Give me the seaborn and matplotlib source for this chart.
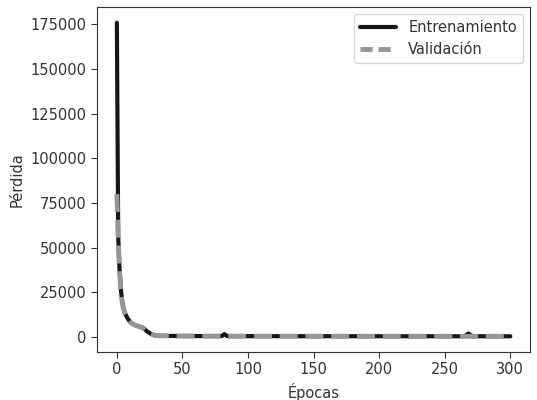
import matplotlib
matplotlib.use("Agg")
import matplotlib.pyplot as plt
import seaborn as sns
import pandas as pd

# Loss per epoch (sampled epochs; the curve is flat between them)
epochs = [0, 1, 2, 3, 4, 5, 6, 8, 10, 12, 15, 18, 20, 23, 26, 29, 32, 35, 40,
          50, 60, 70, 80, 82, 84, 90, 100, 120, 150, 180, 200, 220, 250,
          265, 268, 271, 280, 300]
train_loss = [176000, 57000, 38000, 27000, 20000, 16000, 13500, 10500, 8400, 7200,
              6200, 5500, 5000, 3000, 1600, 800, 600, 500, 450,
              400, 380, 360, 350, 1500, 350, 340, 330, 320, 300, 290, 280, 270, 260,
              260, 1800, 260, 250, 240]
val_loss = [80000, 55000, 37000, 26500, 19800, 15800, 13300, 10400, 8300, 7100,
            6100, 5400, 4900, 2900, 1500, 750, 550, 480, 430,
            390, 370, 350, 340, 340, 340, 330, 320, 310, 290, 280, 270, 260, 250,
            250, 250, 250, 240, 230]

df = pd.concat([
    pd.DataFrame({"Épocas": epochs, "Pérdida": train_loss, "serie": "Entrenamiento"}),
    pd.DataFrame({"Épocas": epochs, "Pérdida": val_loss, "serie": "Validación"}),
])

sns.set_style("white")
plt.rcParams["font.family"] = ["DejaVu Sans"]

fig = plt.figure(figsize=(5.37, 4.0), dpi=100)
ax = fig.add_axes([0.181, 0.12, 0.806, 0.8625])

sns.lineplot(data=df[df.serie == "Entrenamiento"], x="Épocas", y="Pérdida",
             color="#1c1416", linewidth=3.0, label="Entrenamiento", ax=ax)
sns.lineplot(data=df[df.serie == "Validación"], x="Épocas", y="Pérdida",
             color="#9b9497", linewidth=3.5, linestyle="--", dashes=(3.3, 0.8),
             label="Validación", ax=ax)

ax.set_xticks([0, 50, 100, 150, 200, 250, 300])
ax.set_yticks([0, 25000, 50000, 75000, 100000, 125000, 150000, 175000])
ax.tick_params(axis="both", labelsize=10.5, length=4, width=0.8, color="#333333",
               labelcolor="#333333", bottom=True, left=True)
ax.set_xlabel("Épocas", fontsize=10.5, color="#333333")
ax.set_ylabel("Pérdida", fontsize=10.5, color="#333333")
for s in ax.spines.values():
    s.set_color("#333333")
    s.set_linewidth(0.8)

leg = ax.legend(loc="upper right", fontsize=10.5, frameon=True, handlelength=2.5)
leg.get_lines()[1].set_dashes((2.5, 1.2))
for t in leg.get_texts():
    t.set_color("#333333")

fig.savefig("out.png", dpi=100)
